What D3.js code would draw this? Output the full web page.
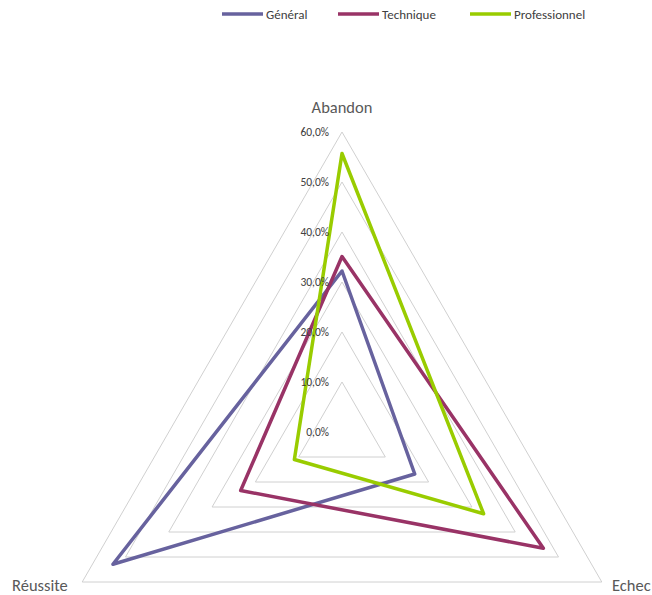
<!DOCTYPE html>
<html>
<head>
<meta charset="utf-8">
<script src="https://cdn.jsdelivr.net/npm/d3@7"></script>
<style>
  body { margin: 0; background: #fff; }
  text { font-family: Calibri, Carlito, "Open Sans", sans-serif; fill: #595959; }
</style>
</head>
<body>
<svg id="chart"></svg>
<script>
const axes = ["Abandon", "Echec", "Réussite"];
const seriesNames = ["Général", "Technique", "Professionnel"];
const general = [0.322, 0.168, 0.529];
const technique = [0.351, 0.465, 0.234];
const professionnel = [0.557, 0.327, 0.110];
const ticks = [0, 0.1, 0.2, 0.3, 0.4, 0.5, 0.6];
const colors = ["#67629e", "#993366", "#99cc00"];

const width = 652, height = 595;
const cx = 342, cy = 432;

const svg = d3.select("#chart").attr("width", width).attr("height", height);

const r = d3.scaleLinear().domain([0, 0.6]).range([0, 300]);
const angle = d3.scaleOrdinal().domain(axes).range([-90, 30, 150].map(a => a * Math.PI / 180));

const pt = (ax, v) => [cx + r(v) * Math.cos(angle(ax)), cy + r(v) * Math.sin(angle(ax))];

const line = d3.line().curve(d3.curveLinearClosed);

// grid triangles
svg.append("g").selectAll("path")
  .data(ticks.filter(t => t > 0))
  .enter().append("path")
  .attr("d", t => line(axes.map(a => pt(a, t))))
  .attr("fill", "none")
  .attr("stroke", "#d0d0d0")
  .attr("stroke-width", 1);

// axis labels
const labelPos = {
  "Abandon": [cx, 113, "middle"],
  "Echec": [612, 591, "start"],
  "Réussite": [12, 591, "start"]
};
svg.append("g").selectAll("text")
  .data(axes)
  .enter().append("text")
  .attr("x", d => labelPos[d][0])
  .attr("y", d => labelPos[d][1])
  .attr("text-anchor", d => labelPos[d][2])
  .style("font-size", "16.5px")
  .text(d => d);

// series
const series = [general, technique, professionnel];
svg.append("g").selectAll("path")
  .data(series)
  .enter().append("path")
  .attr("d", vals => line(axes.map((a, i) => pt(a, vals[i]))))
  .attr("fill", "none")
  .attr("stroke", (d, i) => colors[i])
  .attr("stroke-width", 3.5)
  .attr("stroke-linejoin", "round");

// tick labels (drawn over the series, like Excel)
svg.append("g").selectAll("text")
  .data(ticks)
  .enter().append("text")
  .attr("x", cx - 13)
  .attr("y", t => cy - r(t) + 4)
  .attr("text-anchor", "end")
  .style("font-size", "11.5px")
  .style("fill", "#404040")
  .text(t => d3.format(".1f")(t * 100).replace(".", ",") + "%");

// legend
const legendX = [222, 338, 470];
const lg = svg.append("g").selectAll("g")
  .data(seriesNames)
  .enter().append("g")
  .attr("transform", (d, i) => `translate(${legendX[i]}, 14)`);
lg.append("line")
  .attr("x1", 0).attr("x2", 41).attr("y1", 0).attr("y2", 0)
  .attr("stroke", (d, i) => colors[i])
  .attr("stroke-width", 3.5);
lg.append("text")
  .attr("x", 44)
  .attr("y", 4.5)
  .style("font-size", "13px")
  .style("fill", "#404040")
  .text(d => d);
</script>
</body>
</html>
